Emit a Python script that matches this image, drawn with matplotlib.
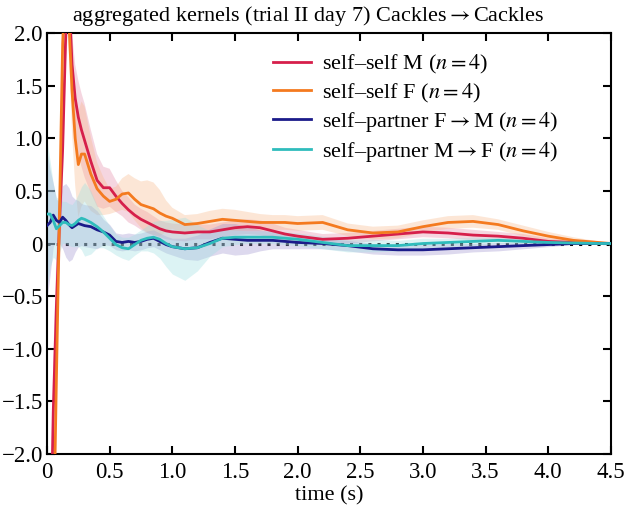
import matplotlib
matplotlib.use("Agg")
import matplotlib.pyplot as plt
from matplotlib.ticker import FuncFormatter

plt.rcParams['font.family'] = ['Liberation Serif', 'DejaVu Serif']
plt.rcParams['mathtext.fontset'] = 'stix'
plt.rcParams['font.size'] = 16

# time axis (s)
t = [0, 0.025, 0.05, 0.075, 0.1, 0.125, 0.15, 0.175, 0.2, 0.225, 0.25, 0.275, 0.3,
     0.35, 0.4, 0.45, 0.5, 0.55, 0.6, 0.65, 0.7, 0.75, 0.8, 0.85, 0.9, 0.95, 1.0,
     1.1, 1.2, 1.3, 1.4, 1.5, 1.6, 1.7, 1.8, 1.9, 2.0, 2.2, 2.4, 2.6, 2.8, 3.0,
     3.2, 3.4, 3.6, 3.8, 4.0, 4.2, 4.4, 4.5]

# self-self M
self_m = [-5.5, -3.2, -1.6, -0.6, 0.2, 0.9, 2.0, 2.4, 1.7, 1.38, 1.2, 1.08, 0.98,
          0.78, 0.6, 0.53, 0.53, 0.45, 0.38, 0.32, 0.27, 0.23, 0.2, 0.17, 0.14, 0.12, 0.11,
          0.1, 0.11, 0.11, 0.13, 0.15, 0.16, 0.15, 0.12, 0.09, 0.07, 0.04, 0.05, 0.07, 0.09, 0.11,
          0.1, 0.08, 0.07, 0.05, 0.02, 0.01, 0.0, 0.0]
self_m_err = [0.5, 0.5, 0.5, 0.5, 0.5, 0.4, 0.3, 0.25, 0.3, 0.32, 0.35, 0.35, 0.35,
              0.3, 0.25, 0.2, 0.18, 0.15, 0.12, 0.12, 0.1, 0.1, 0.1, 0.09, 0.08, 0.08, 0.08,
              0.08, 0.07, 0.07, 0.07, 0.07, 0.07, 0.07, 0.07, 0.06, 0.06, 0.05, 0.05, 0.05, 0.05, 0.05,
              0.05, 0.05, 0.04, 0.04, 0.03, 0.02, 0.01, 0.0]

# self-self F
self_f = [-7.0, -5.0, -3.0, -1.3, 0.3, 1.9, 2.6, 2.1, 1.45, 1.0, 0.75, 0.85, 0.85,
          0.66, 0.52, 0.45, 0.4, 0.42, 0.47, 0.48, 0.42, 0.37, 0.35, 0.33, 0.29, 0.26, 0.24,
          0.18, 0.19, 0.21, 0.23, 0.22, 0.21, 0.2, 0.2, 0.2, 0.19, 0.2, 0.13, 0.1, 0.11, 0.16,
          0.2, 0.21, 0.18, 0.12, 0.07, 0.03, 0.01, 0.0]
self_f_err = [0.3, 0.3, 0.3, 0.3, 0.3, 0.3, 0.2, 0.3, 0.4, 0.45, 0.5, 0.5, 0.45,
              0.35, 0.25, 0.18, 0.12, 0.12, 0.15, 0.18, 0.2, 0.22, 0.25, 0.25, 0.22, 0.15, 0.1,
              0.09, 0.09, 0.1, 0.1, 0.1, 0.09, 0.08, 0.07, 0.07, 0.07, 0.07, 0.06, 0.06, 0.06, 0.06,
              0.06, 0.06, 0.05, 0.05, 0.04, 0.03, 0.01, 0.0]

# self-partner F -> M
fm = [0.17, 0.2, 0.27, 0.22, 0.2, 0.25, 0.22, 0.18, 0.15, 0.17, 0.19, 0.18, 0.17,
      0.16, 0.13, 0.11, 0.08, 0.02, 0.01, 0.02, 0.01, 0.02, 0.04, 0.05, 0.02, -0.01, -0.03,
      -0.05, -0.04, 0.01, 0.05, 0.04, 0.03, 0.03, 0.03, 0.02, 0.01, 0.0, -0.02, -0.05, -0.06, -0.06,
      -0.05, -0.04, -0.03, -0.02, -0.01, 0.0, 0.0, 0.0]
fm_err = [0.7, 0.5, 0.3, 0.2, 0.2, 0.3, 0.35, 0.35, 0.3, 0.25, 0.22, 0.2, 0.2,
          0.2, 0.18, 0.12, 0.1, 0.08, 0.08, 0.08, 0.08, 0.08, 0.08, 0.08, 0.08, 0.08, 0.08,
          0.1, 0.12, 0.13, 0.14, 0.15, 0.13, 0.1, 0.08, 0.07, 0.06, 0.05, 0.05, 0.05, 0.05, 0.05,
          0.05, 0.04, 0.04, 0.03, 0.02, 0.01, 0.01, 0.0]

# self-partner M -> F
mf = [0.28, 0.28, 0.22, 0.14, 0.17, 0.2, 0.2, 0.18, 0.17, 0.19, 0.22, 0.24, 0.23,
      0.2, 0.16, 0.11, 0.05, -0.01, -0.04, -0.05, -0.01, 0.03, 0.05, 0.06, 0.04, 0.0, -0.03,
      -0.05, -0.04, 0.0, 0.05, 0.06, 0.06, 0.06, 0.06, 0.05, 0.04, 0.01, -0.02, -0.02, -0.02, 0.0,
      0.01, 0.02, 0.03, 0.02, 0.01, 0.005, 0.0, 0.0]
mf_err = [0.7, 0.5, 0.35, 0.3, 0.25, 0.2, 0.2, 0.2, 0.2, 0.22, 0.25, 0.3, 0.35,
          0.3, 0.2, 0.15, 0.12, 0.1, 0.1, 0.11, 0.1, 0.1, 0.12, 0.15, 0.18, 0.22, 0.26,
          0.3, 0.22, 0.12, 0.08, 0.07, 0.06, 0.06, 0.06, 0.06, 0.06, 0.06, 0.06, 0.06, 0.05, 0.05,
          0.04, 0.04, 0.03, 0.03, 0.02, 0.01, 0.01, 0.0]

series = [
    (self_m, self_m_err, '#d61f4b', '#e58aa8', r'self–self M ($n=4$)'),
    (self_f, self_f_err, '#f47a1f', '#f9b98a', r'self–self F ($n=4$)'),
    (fm, fm_err, '#1b1b8a', '#9f93cf', r'self–partner F$\rightarrow$M ($n=4$)'),
    (mf, mf_err, '#2fbcbc', '#9ddfe0', r'self–partner M$\rightarrow$F ($n=4$)'),
]

fig = plt.figure(figsize=(6.24, 5.08), dpi=100)
ax = fig.add_axes([0.0753, 0.1063, 0.9037, 0.8287])

ax.axhline(0, color='black', linestyle=(0, (1, 2)), linewidth=2.2, zorder=1)

for mean, err, c, fc, lab in series:
    lo = [m - e for m, e in zip(mean, err)]
    hi = [m + e for m, e in zip(mean, err)]
    ax.fill_between(t, lo, hi, color=fc, alpha=0.35, linewidth=0, zorder=2)
for mean, err, c, fc, lab in series:
    ax.plot(t, mean, color=c, linewidth=2, label=lab, zorder=3)

ax.set_xlim(0, 4.5)
ax.set_ylim(-2, 2)
ax.set_xticks([0, 0.5, 1.0, 1.5, 2.0, 2.5, 3.0, 3.5, 4.0, 4.5])
ax.set_yticks([-2.0, -1.5, -1.0, -0.5, 0, 0.5, 1.0, 1.5, 2.0])
fmt = FuncFormatter(lambda v, p: '0' if abs(v) < 1e-9 else ('%.1f' % v).replace('-', '\u2212'))
ax.xaxis.set_major_formatter(fmt)
ax.yaxis.set_major_formatter(fmt)
ax.tick_params(direction='in', top=True, right=True, length=6, width=1.5, labelsize=16.5, pad=3)
ax.tick_params(axis='x', pad=6)
for s in ax.spines.values():
    s.set_linewidth(1.5)

ax.set_xlabel('time (s)', fontsize=16, labelpad=2)
ax.set_title(r'aggregated kernels (trial II day 7) Cackles$\rightarrow$Cackles', fontsize=16,
             pad=9, x=0.463)

ax.legend(loc='upper right', bbox_to_anchor=(0.943, 1.0), frameon=False, fontsize=16,
          handlelength=1.7, handletextpad=0.5, labelspacing=0.25)

fig.savefig('out.png', dpi=100)
